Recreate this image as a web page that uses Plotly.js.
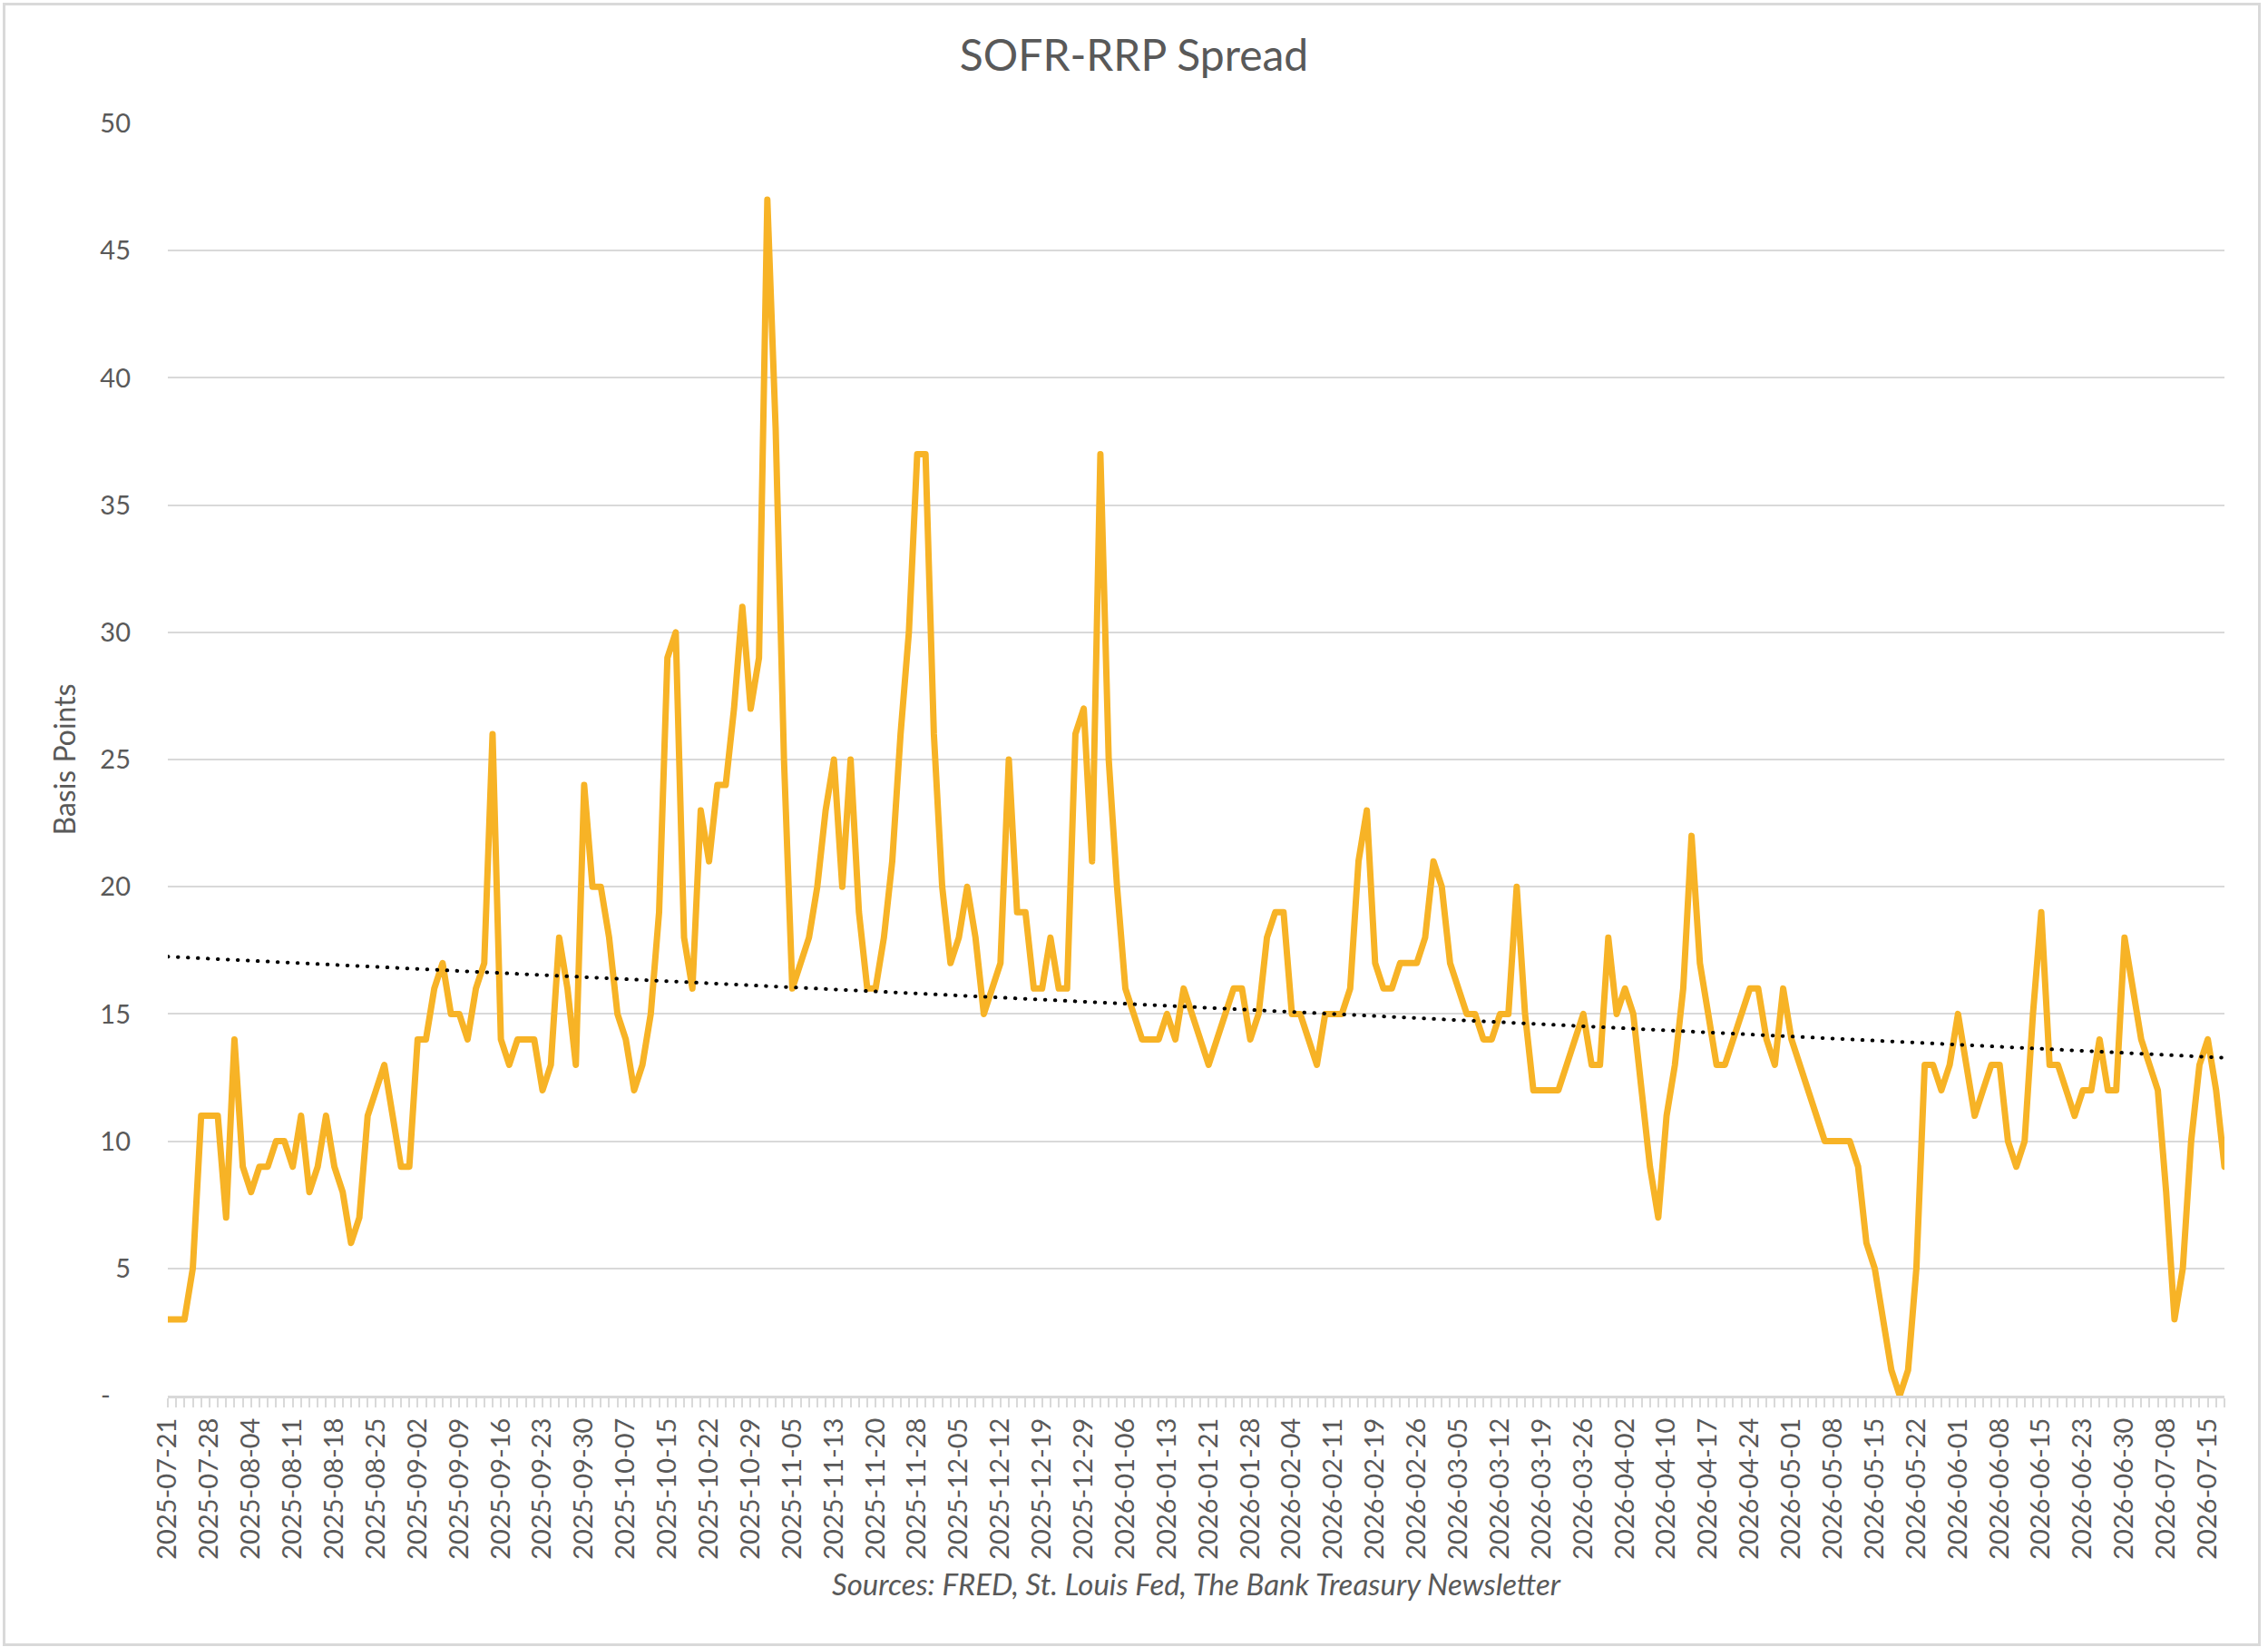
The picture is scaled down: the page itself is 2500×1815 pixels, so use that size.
<!DOCTYPE html>
<html>
<head>
<meta charset="utf-8">
<script src="https://cdn.plot.ly/plotly-3.0.1.min.js"></script>
<style>
  html, body { margin: 0; padding: 0; background: #fff; }
  #chart { width: 2500px; height: 1815px; }
  #frame { position: absolute; left: 3px; top: 3px; width: 2489px; height: 1811px;
           border: 3px solid #d9d9d9; box-sizing: border-box; pointer-events: none; }
  .scatterlayer .js-line { stroke-linejoin: round; stroke-linecap: round; }
</style>
</head>
<body>
<div id="chart"></div>
<div id="frame"></div>
<script>
// ─── data ───────────────────────────────────────────────────
// business days (SOFR calendar) from first to last observation
var firstDay = '2025-07-21';
var lastDay = '2026-07-17';
var holidays = ['2025-09-01', '2025-10-13', '2025-11-11', '2025-11-27', '2025-12-25',
  '2026-01-01', '2026-01-19', '2026-02-16', '2026-04-03', '2026-05-25', '2026-06-19', '2026-07-03'];

// SOFR minus RRP rate, basis points
var spread = [
  3, 3, 3, 5, 11, 11, 11, 7, 14, 9,
  8, 9, 9, 10, 10, 9, 11, 8, 9, 11,
  9, 8, 6, 7, 11, 12, 13, 11, 9, 9,
  14, 14, 16, 17, 15, 15, 14, 16, 17, 26,
  14, 13, 14, 14, 14, 12, 13, 18, 16, 13,
  24, 20, 20, 18, 15, 14, 12, 13, 15, 19,
  29, 30, 18, 16, 23, 21, 24, 24, 27, 31,
  27, 29, 47, 38, 25, 16, 17, 18, 20, 23,
  25, 20, 25, 19, 16, 16, 18, 21, 26, 30,
  37, 37, 26, 20, 17, 18, 20, 18, 15, 16,
  17, 25, 19, 19, 16, 16, 18, 16, 16, 26,
  27, 21, 37, 25, 20, 16, 15, 14, 14, 14,
  15, 14, 16, 15, 14, 13, 14, 15, 16, 16,
  14, 15, 18, 19, 19, 15, 15, 14, 13, 15,
  15, 15, 16, 21, 23, 17, 16, 16, 17, 17,
  17, 18, 21, 20, 17, 16, 15, 15, 14, 14,
  15, 15, 20, 15, 12, 12, 12, 12, 13, 14,
  15, 13, 13, 18, 15, 16, 15, 12, 9, 7,
  11, 13, 16, 22, 17, 15, 13, 13, 14, 15,
  16, 16, 14, 13, 16, 14, 13, 12, 11, 10,
  10, 10, 10, 9, 6, 5, 3, 1, 0, 1,
  5, 13, 13, 12, 13, 15, 13, 11, 12, 13,
  13, 10, 9, 10, 15, 19, 13, 13, 12, 11,
  12, 12, 14, 12, 12, 18, 16, 14, 13, 12,
  8, 3, 5, 10, 13, 14, 12, 9
];

var yTickVals = [0, 5, 10, 15, 20, 25, 30, 35, 40, 45, 50];
var yTickText = ['-\u00a0\u00a0\u00a0', '5', '10', '15', '20', '25', '30', '35', '40', '45', '50'];
var labelEvery = 5;

// ─── categories ─────────────────────────────────────────────
function businessDays(from, to, skip) {
  var out = [];
  var d = new Date(from + 'T00:00:00Z');
  var end = new Date(to + 'T00:00:00Z');
  while (d <= end) {
    var s = d.toISOString().slice(0, 10);
    var wd = d.getUTCDay();
    if (wd !== 0 && wd !== 6 && skip.indexOf(s) < 0) out.push(s);
    d.setUTCDate(d.getUTCDate() + 1);
  }
  return out;
}

var dates = businessDays(firstDay, lastDay, holidays);
var idx = dates.map(function (d, i) { return i; });

var tickVals = [], tickText = [];
dates.forEach(function (d, i) {
  if (i % labelEvery === 0) { tickVals.push(i); tickText.push(d); }
});

// linear trendline (least squares, like Excel)
var n = spread.length, sx = 0, sy = 0, sxy = 0, sxx = 0;
for (var i = 0; i < n; i++) { sx += i; sy += spread[i]; sxy += i * spread[i]; sxx += i * i; }
var slope = (n * sxy - sx * sy) / (n * sxx - sx * sx);
var icpt = (sy - slope * sx) / n;
var trendX = [0, n - 1];
var trendY = trendX.map(function (x) { return icpt + slope * x; });

// ─── chart ──────────────────────────────────────────────────
var grey = '#d9d9d9';
var txt = '#595959';

var traces = [
  {
    type: 'scatter', mode: 'lines', name: 'SOFR-RRP',
    x: idx, y: spread, text: dates,
    line: { color: '#F7B326', width: 7 },
    hovertemplate: '%{text}: %{y}<extra></extra>'
  },
  {
    type: 'scatter', mode: 'lines', name: 'Trend',
    x: trendX, y: trendY,
    line: { color: '#000000', width: 4, dash: '0.5px,10.5px' },
    hoverinfo: 'skip'
  }
];

var layout = {
  width: 2500, height: 1815,
  margin: { l: 185, r: 48, t: 136, b: 277 },
  paper_bgcolor: '#ffffff', plot_bgcolor: '#ffffff',
  showlegend: false,
  font: { family: 'Lato, "Open Sans", sans-serif', color: txt },
  title: {
    text: 'SOFR-RRP Spread',
    font: { size: 48, color: txt },
    x: 0.5, xref: 'container', xanchor: 'center',
    y: 1 - 61 / 1815, yref: 'container', yanchor: 'middle'
  },
  xaxis: {
    range: [0, n - 1],
    tickmode: 'array', tickvals: tickVals, ticktext: tickText,
    tickangle: -90, tickfont: { size: 29, color: txt },
    ticks: 'outside', ticklen: 10, tickwidth: 2, tickcolor: grey,
    minor: { tickmode: 'linear', tick0: 0, dtick: 1, ticks: 'outside', ticklen: 10, tickwidth: 2, tickcolor: grey, showgrid: false },
    showgrid: false, zeroline: false,
    showline: true, linecolor: grey, linewidth: 3
  },
  yaxis: {
    range: [0, 50],
    tickmode: 'array', tickvals: yTickVals, ticktext: yTickText,
    tickfont: { size: 29, color: txt }, ticks: '', ticklabelstandoff: 40,
    showgrid: true, gridcolor: grey, gridwidth: 2,
    zeroline: false, showline: false,
    title: { text: 'Basis Points', font: { size: 32, color: txt }, standoff: 17 }
  },
  annotations: [{
    text: '<i>Sources: FRED, St. Louis Fed, The Bank Treasury Newsletter</i>',
    xref: 'paper', yref: 'paper', x: 0.5, y: -0.148,
    xanchor: 'center', yanchor: 'middle', showarrow: false,
    font: { size: 33, color: txt }
  }]
};

Plotly.newPlot('chart', traces, layout, { displayModeBar: false, staticPlot: true });
</script>
</body>
</html>
